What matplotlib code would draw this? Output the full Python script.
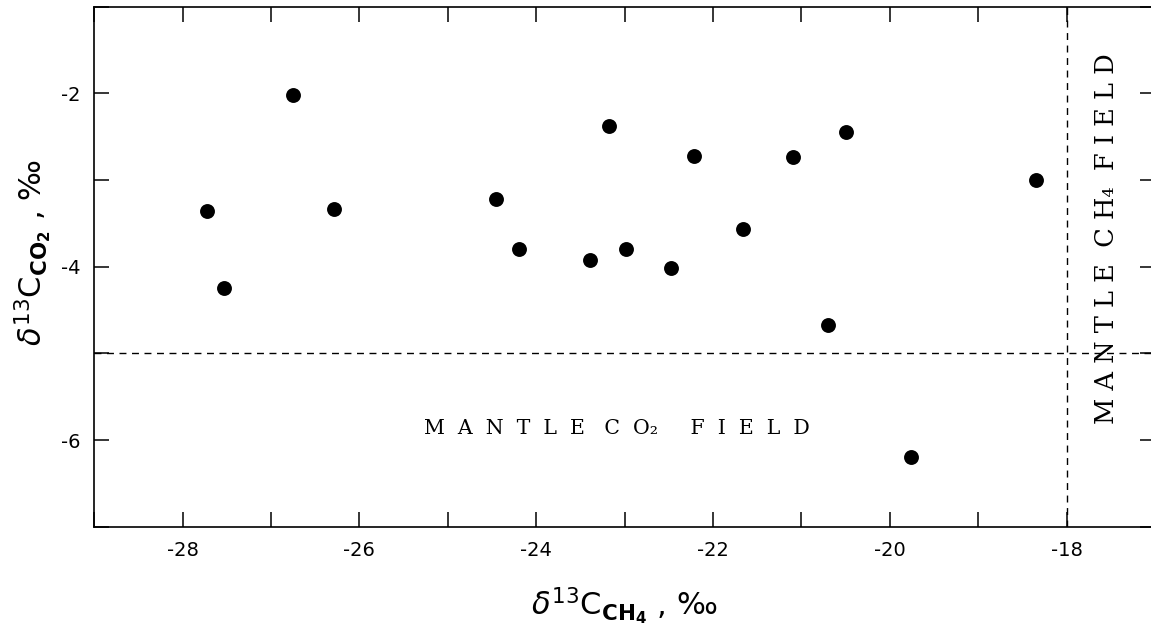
import matplotlib
matplotlib.use("Agg")
import matplotlib.pyplot as plt
from matplotlib.ticker import MultipleLocator

# carbon isotope pairs: methane vs carbon dioxide (per mil)
d13c_ch4 = [-27.73, -27.53, -26.75, -26.29, -24.46, -24.19, -23.39, -23.18,
            -22.98, -22.48, -22.22, -21.66, -21.09, -20.70, -20.50, -19.76,
            -18.35]
d13c_co2 = [-3.36, -4.25, -2.02, -3.33, -3.22, -3.80, -3.92, -2.38,
            -3.80, -4.01, -2.72, -3.57, -2.73, -4.67, -2.44, -6.20,
            -3.00]

# boundaries of the mantle fields
mantle_co2_limit = -5
mantle_ch4_limit = -18

plt.rcParams["axes.unicode_minus"] = False
plt.rcParams["mathtext.fontset"] = "dejavusans"

fig = plt.figure(figsize=(11.51, 6.29), dpi=100)
ax = fig.add_axes([0.0819, 0.1626, 0.9215, 0.8267])

ax.scatter(d13c_ch4, d13c_co2, s=115, color="black", linewidths=0, zorder=3)

ax.axhline(mantle_co2_limit, color="black", lw=1.0, ls=(0, (5, 4)))
ax.axvline(mantle_ch4_limit, color="black", lw=1.0, ls=(0, (5, 4)))

ax.set_xlim(-29, -17)
ax.set_ylim(-7, -1)
ax.xaxis.set_major_locator(MultipleLocator(2))
ax.xaxis.set_minor_locator(MultipleLocator(1))
ax.yaxis.set_major_locator(MultipleLocator(2))
ax.yaxis.set_minor_locator(MultipleLocator(1))
ax.tick_params(which="both", direction="in", top=True, right=True,
               length=11, width=1.1, labelsize=14, pad=10)
for sp in ax.spines.values():
    sp.set_linewidth(1.2)
# right frame edge sits just past the figure border
ax.spines["right"].set_visible(False)

ax.text(-23.09, -5.87, "M  A  N  T  L  E   C  O\u2082     F  I  E  L  D",
        fontfamily="DejaVu Serif", fontsize=14.8, ha="center", va="center")
ax.text(-17.55, -3.67, "M A N T L E  C H\u2084  F I E L D",
        fontfamily="DejaVu Serif", fontsize=18.5, rotation=90,
        ha="center", va="center")

ax.set_xlabel(r"$\delta^{13}\mathrm{C}_{\mathbf{CH_4}}$ , ‰", fontsize=22,
              labelpad=19)
ax.set_ylabel(r"$\delta^{13}\mathrm{C}_{\mathbf{CO_2}}$ , ‰", fontsize=22)
ax.yaxis.set_label_coords(-0.038, 0.527)

fig.savefig("out.png", dpi=100)
